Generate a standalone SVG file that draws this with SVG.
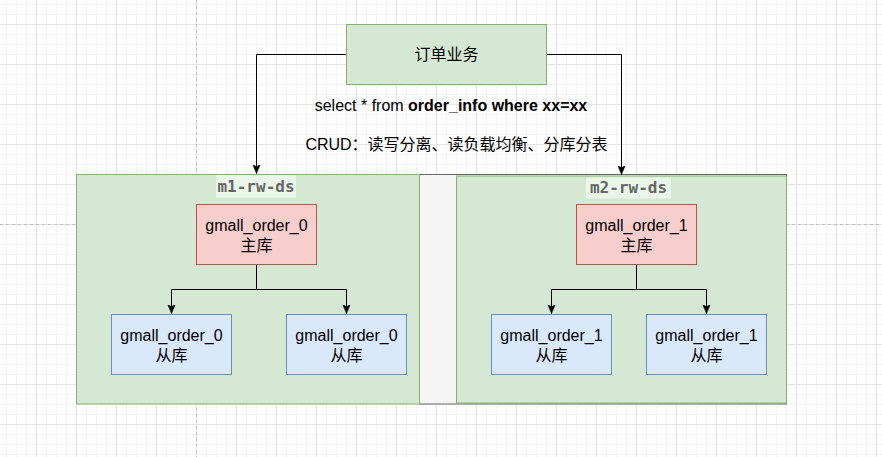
<svg xmlns="http://www.w3.org/2000/svg" width="882" height="457" viewBox="0 0 882 457">
<style>
.t{font-family:"Liberation Sans","Noto Sans CJK SC",sans-serif;font-size:16px;fill:#000;text-anchor:middle}
.b{font-weight:bold}
.lbl{font-family:"DejaVu Sans Mono","Liberation Mono",monospace;font-size:16px;font-weight:bold;fill:#666;text-anchor:middle}
.lblbg{fill:#eaf6e7}
.green{fill:#d5e8d4;stroke:#82b366;stroke-width:1}
.red{fill:#f8cecc;stroke:#b85450;stroke-width:1}
.blue{fill:#dae8fc;stroke:#6c8ebf;stroke-width:1}
.gray{fill:#f5f5f5;stroke:#666;stroke-width:1}
.edge{fill:none;stroke:#000;stroke-width:1}
.pb{fill:none;stroke:#c0c0c0;stroke-width:1;stroke-dasharray:3 3}
</style>
<defs>
<pattern id="grid" patternUnits="userSpaceOnUse" x="0" y="0" width="40" height="40">
<path d="M6.5 0V40M16.5 0V40M26.5 0V40M0 4.5H40M0 14.5H40M0 34.5H40" stroke="#f3f3f3" stroke-width="1" fill="none"/>
<path d="M36.5 0V40M0 24.5H40" stroke="#e4e4e4" stroke-width="1" fill="none"/>
</pattern>
<marker id="arr" markerWidth="10" markerHeight="10" viewBox="0 0 10 10" refX="9" refY="5" orient="auto" markerUnits="userSpaceOnUse">
<path d="M0 1.2L9 5L0 8.8L2.2 5Z" fill="#000" stroke="#000" stroke-width="0.5"/>
</marker>
</defs>
<rect width="882" height="457" fill="#fff"/>
<rect width="882" height="457" fill="url(#grid)"/>
<path class="pb" d="M196.5 0V457M0 224.5H882"/>

<g id="outer-gray"><rect class="gray" x="419.5" y="174.5" width="367" height="229.5"/></g>
<g id="m1-rw-ds">
<rect class="green" x="76.5" y="174.5" width="343" height="229.5"/>
<rect class="lblbg" x="216" y="175" width="80" height="22.5"/>
<text class="lbl" x="256" y="191.5">m1-rw-ds</text>
</g>
<g id="m2-rw-ds">
<rect class="green" x="456.5" y="176" width="330" height="227"/>
<rect class="lblbg" x="586" y="177.5" width="85" height="21"/>
<text class="lbl" x="628.5" y="193">m2-rw-ds</text>
</g>

<g id="connectors">
<path class="edge" d="M346.5 54.5H256.5V173.5" marker-end="url(#arr)"/>
<path class="edge" d="M546.5 54.5H621.5V174.5" marker-end="url(#arr)"/>
<path class="edge" d="M256.5 264.5V289.5H171.5V313.5" marker-end="url(#arr)"/>
<path class="edge" d="M256.5 289.5H346.5V313.5" marker-end="url(#arr)"/>
<path class="edge" d="M636.5 264.5V289.5H551.5V313.5" marker-end="url(#arr)"/>
<path class="edge" d="M636.5 289.5H706.5V313.5" marker-end="url(#arr)"/>
</g>

<g id="order-service">
<rect class="green" x="346.5" y="24.5" width="200" height="60"/>
<text class="t" x="446.5" y="60">订单业务</text>
</g>
<g id="sql-label">
<text class="t" x="451" y="110.5">select * from <tspan class="b">order_info where xx=xx</tspan></text>
<text class="t" x="456.5" y="150">CRUD：读写分离、读负载均衡、分库分表</text>
</g>

<g id="m1-master">
<rect class="red" x="196.5" y="204.5" width="120" height="60"/>
<text class="t" x="256.5" y="230.5">gmall_order_0</text>
<text class="t" x="256.5" y="250.5">主库</text>
</g>
<g id="m1-slave-a">
<rect class="blue" x="111.5" y="314.5" width="120" height="60"/>
<text class="t" x="171.5" y="340.5">gmall_order_0</text>
<text class="t" x="171.5" y="360.5">从库</text>
</g>
<g id="m1-slave-b">
<rect class="blue" x="286.5" y="314.5" width="120" height="60"/>
<text class="t" x="346.5" y="340.5">gmall_order_0</text>
<text class="t" x="346.5" y="360.5">从库</text>
</g>
<g id="m2-master">
<rect class="red" x="576.5" y="204.5" width="120" height="60"/>
<text class="t" x="636.5" y="230.5">gmall_order_1</text>
<text class="t" x="636.5" y="250.5">主库</text>
</g>
<g id="m2-slave-a">
<rect class="blue" x="491.5" y="314.5" width="120" height="60"/>
<text class="t" x="551.5" y="340.5">gmall_order_1</text>
<text class="t" x="551.5" y="360.5">从库</text>
</g>
<g id="m2-slave-b">
<rect class="blue" x="646.5" y="314.5" width="120" height="60"/>
<text class="t" x="706.5" y="340.5">gmall_order_1</text>
<text class="t" x="706.5" y="360.5">从库</text>
</g>
</svg>
